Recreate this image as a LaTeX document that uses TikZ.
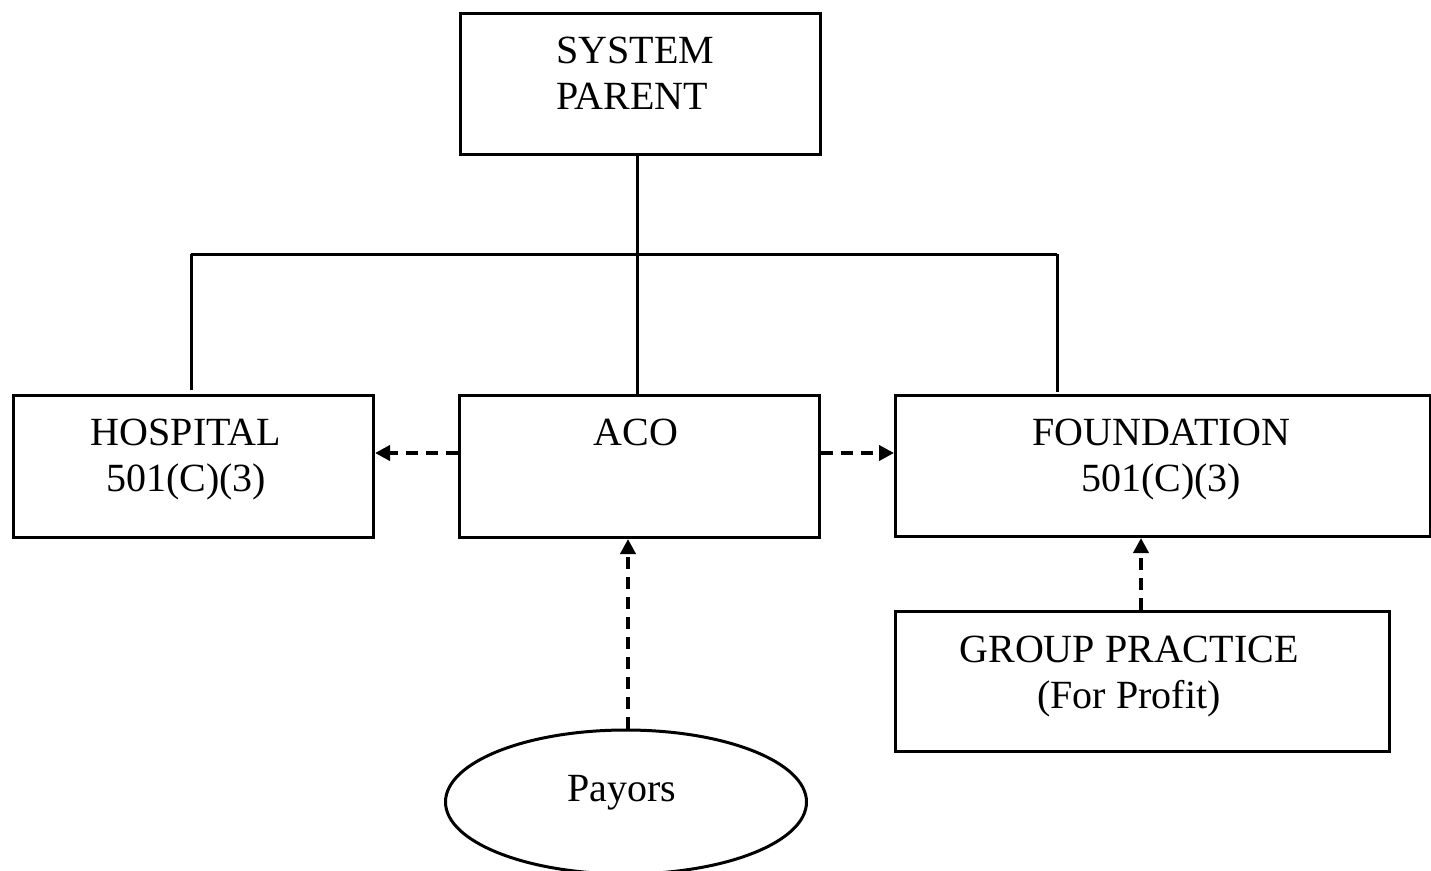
\documentclass[tikz,border=0pt]{standalone}
\usepackage{fontspec}
\setmainfont{Liberation Serif}
\usetikzlibrary{shapes.geometric,arrows.meta}
\begin{document}
\begin{tikzpicture}[x=1pt,y=-1pt,
  box/.style={draw,line width=3pt,inner sep=0pt,anchor=north west},
  txt/.style={inner sep=0pt,anchor=north,align=center,font=\fontsize{40}{46}\selectfont},
  link/.style={line width=3pt},
  dlink/.style={line width=4pt,dash pattern=on 12pt off 8pt,-{Triangle[length=15pt,width=15pt]}}]
\useasboundingbox (0,0) rectangle (1431,870);
% boxes
\node[box,minimum width=360pt,minimum height=141pt] (parent) at (459,12) {};
\node[box,minimum width=360pt,minimum height=142pt] (hosp) at (12,394) {};
\node[box,minimum width=360pt,minimum height=142pt] (aco) at (458,394) {};
\node[box,minimum width=535pt,minimum height=141pt] (found) at (894,394) {};
\node[box,minimum width=494pt,minimum height=140pt] (group) at (894,610) {};
\node[draw,line width=3pt,ellipse,minimum width=361pt,minimum height=144pt,inner sep=0pt] (payors) at (626,802) {};
% texts
\node[txt,align=left,anchor=north west] (tparent) at (556,37) {SYSTEM\\PARENT};
\node[txt] (thosp) at (186,419) {HOSPITAL\\501(C)(3)};
\node[txt] (taco) at (636,419) {ACO};
\node[txt] (tfound) at (1161,419) {FOUNDATION\\ 501(C)(3)};
\node[txt] (tgroup) at (1129,636) {GROUP PRACTICE\\ (For Profit)};
\node[txt] (tpay) at (622,775) {Payors};
% ownership lines
\coordinate (bar) at (637,254);
\coordinate (barL) at (191,254);
\coordinate (barR) at (1057,254);
\draw[link] (parent.south -| bar) -- (aco.north -| bar);
\draw[link] (barL) -- (barR);
\draw[link] (barL) -- (191,390);
\draw[link] (barR) -- (1057,392);
% contractual links
\draw[dlink] (aco.west |- 0,453) -- (hosp.east |- 0,453);
\draw[dlink] (aco.east |- 0,453) -- (found.west |- 0,453);
\draw[dlink] (payors.north -| 628,0) -- (aco.south -| 628,0);
\draw[dlink] (group.north -| 1141,0) -- (found.south -| 1141,0);
\end{tikzpicture}
\end{document}
